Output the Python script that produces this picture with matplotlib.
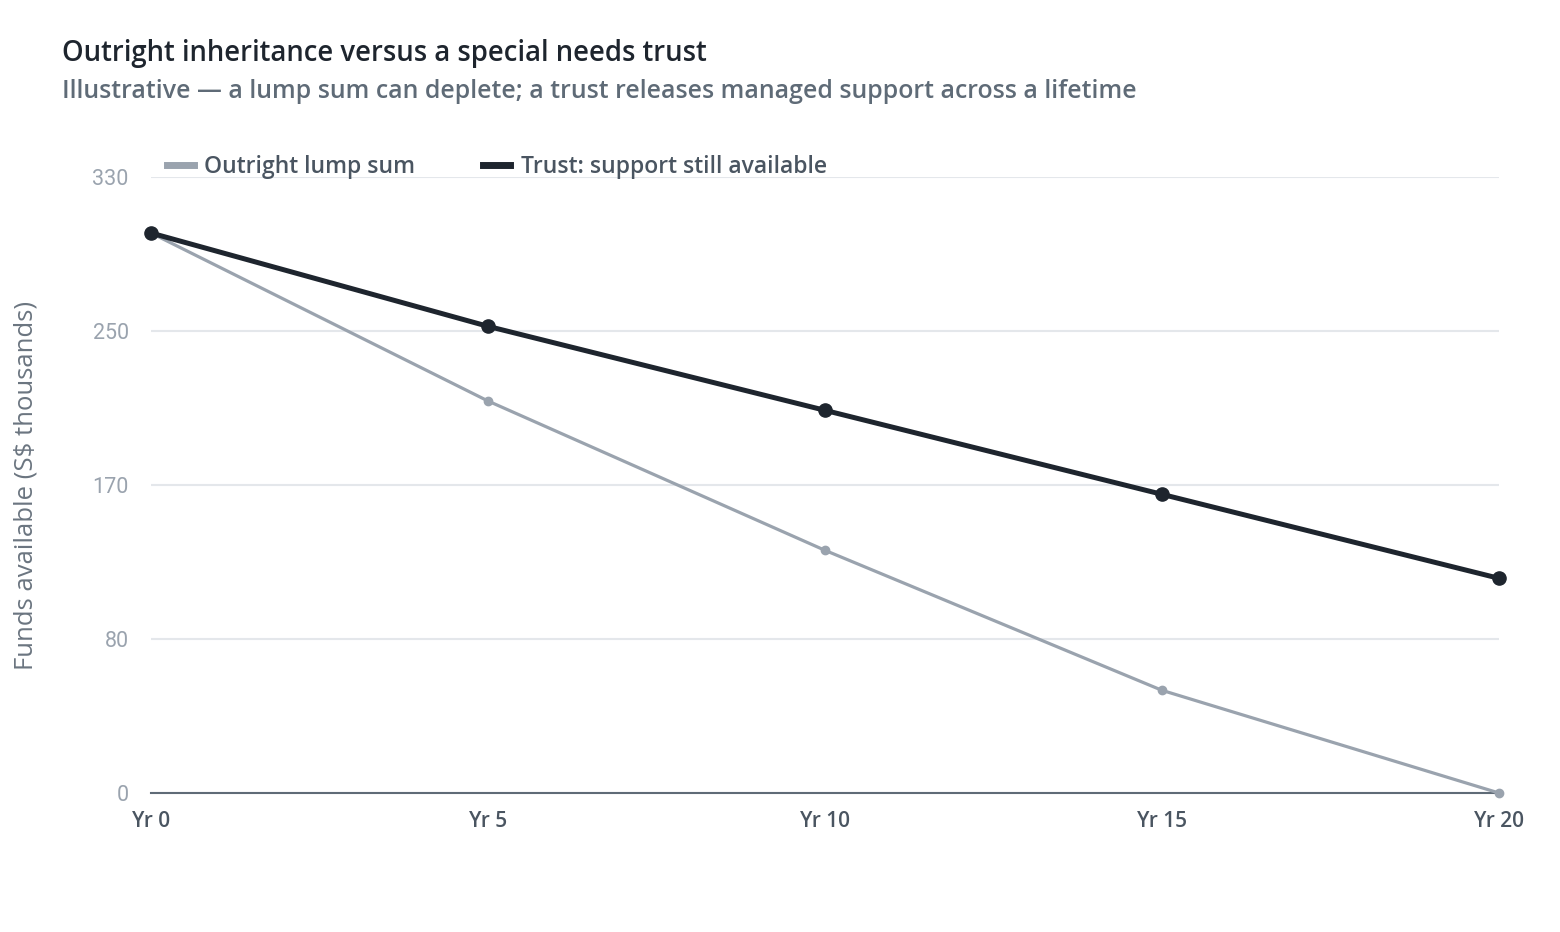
import matplotlib
matplotlib.use("Agg")
import matplotlib.pyplot as plt

years = [0, 5, 10, 15, 20]
x_labels = ["Yr 0", "Yr 5", "Yr 10", "Yr 15", "Yr 20"]
lump_sum = [300, 210, 130, 55, 0]
trust = [300, 250, 205, 160, 115]
y_ticks = [0, 82.5, 165, 247.5, 330]
y_tick_labels = ["0", "80", "170", "250", "330"]

plt.rcParams['font.family'] = ['Open Sans', 'DejaVu Sans']

fig = plt.figure(figsize=(15.6, 9.32), dpi=100)
ax = fig.add_axes([151/1560, 1-793/932, (1499-151)/1560, (793-177)/932])

lump_c = "#9aa3ae"
trust_c = "#1e252e"

ax.plot(years, lump_sum, color=lump_c, lw=2.3, marker="o", ms=6, clip_on=False, zorder=3,
        label="Outright lump sum")
ax.plot(years, trust, color=trust_c, lw=3.6, marker="o", ms=9.5, clip_on=False, zorder=4,
        label="Trust: support still available")

ax.set_xlim(0, 20)
ax.set_ylim(0, 330)
ax.set_xticks(years)
ax.set_xticklabels(x_labels)
ax.set_yticks(y_ticks)
ax.set_yticklabels(y_tick_labels, family=['Roboto', 'DejaVu Sans'])

for s in ["top", "right", "left"]:
    ax.spines[s].set_visible(False)
ax.spines["bottom"].set_color("#5f6b77")
ax.spines["bottom"].set_linewidth(1.5)
ax.spines["bottom"].set_zorder(2)

ax.grid(axis="y", color="#e4e7eb", lw=1.5)
ax.grid(axis="x", visible=False)
ax.set_axisbelow(True)

ax.tick_params(axis="y", length=0, pad=16, labelsize=15.5, labelcolor="#9aa3ae")
ax.tick_params(axis="x", length=0, pad=13, labelsize=15, labelcolor="#4a5561")
for lbl in ax.get_xticklabels():
    lbl.set_fontweight("semibold")

ax.set_ylabel("Funds available (S$ thousands)", fontsize=18.5, color="#6b7580", fontweight="medium")
ax.yaxis.set_label_coords(-0.0835, 0.5)

leg = ax.legend(loc="center left", bbox_to_anchor=(0.0115, 1.0165), ncol=2, frameon=False,
                borderpad=0, borderaxespad=0,
                handlelength=1.2, handletextpad=0.45, columnspacing=2.95, fontsize=16.5)
for t in leg.get_texts():
    t.set_color("#4a5561")
    t.set_fontweight("semibold")
for h in leg.legend_handles:
    h.set_marker("")
    h.set_linewidth(5)

fig.text(62/1560, 1-53/932, "Outright inheritance versus a special needs trust",
         fontsize=19.8, color="#1e252e", fontweight="semibold", va="center", ha="left")
fig.text(62/1560, 1-91/932,
         "Illustrative \u2014 a lump sum can deplete; a trust releases managed support across a lifetime",
         fontsize=17.9, color="#5f6b77", fontweight="semibold", va="center", ha="left")

fig.savefig("out.png", dpi=100)
